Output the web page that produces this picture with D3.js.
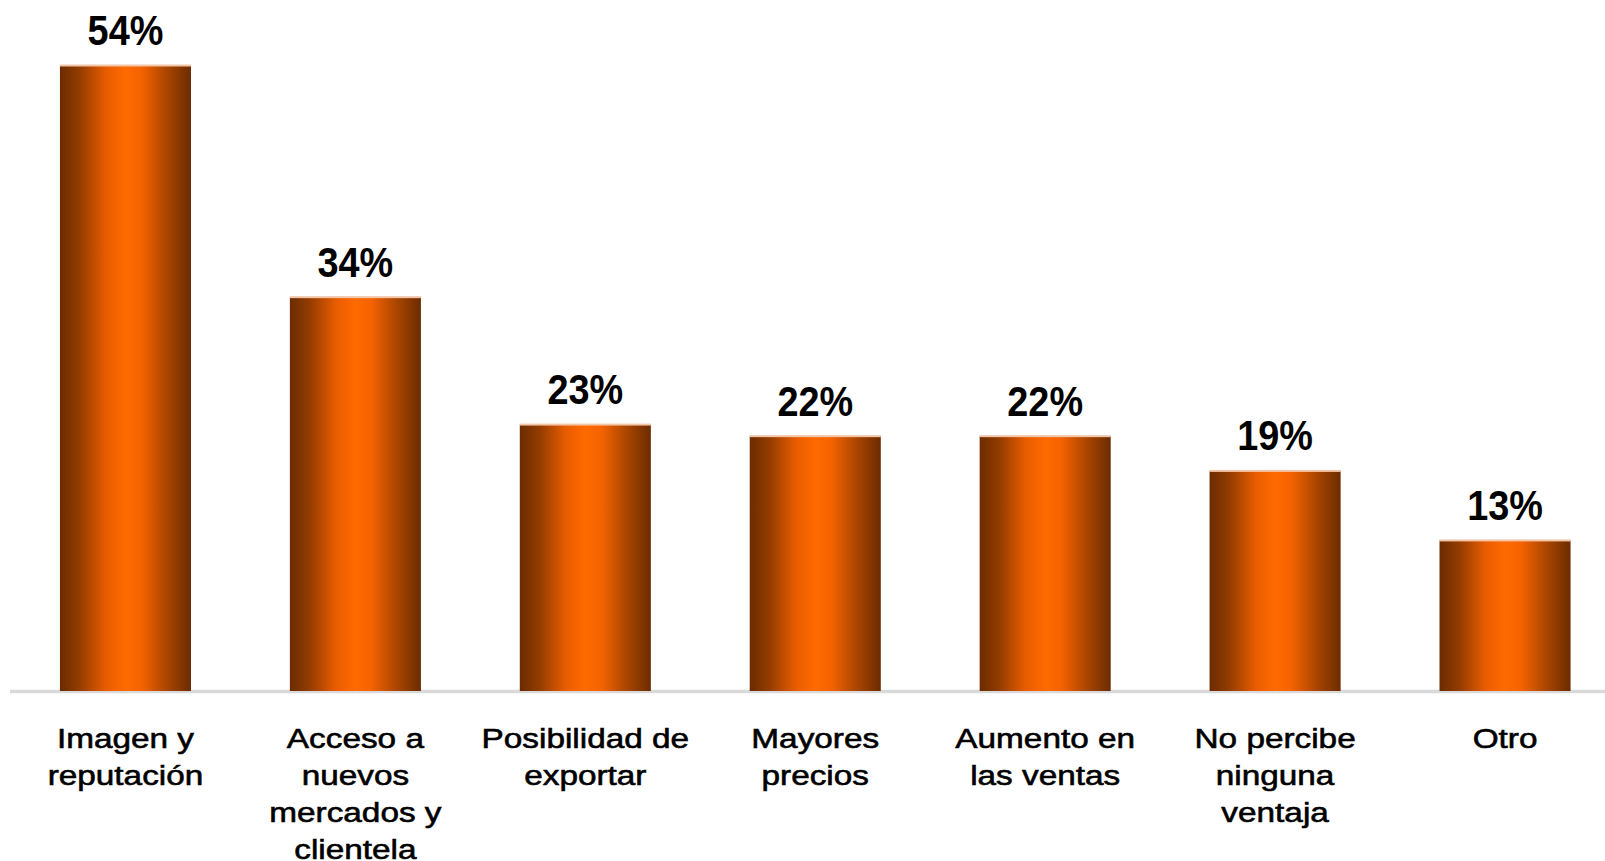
<!DOCTYPE html>
<html>
<head>
<meta charset="utf-8">
<script src="https://cdn.jsdelivr.net/npm/d3@7"></script>
<style>
html,body{margin:0;padding:0;background:#fff;overflow:hidden;}
svg{display:block;}
</style>
</head>
<body>
<svg id="chart" width="1605" height="861"></svg>
<script>
const categories = [
  ["Imagen y", "reputación"],
  ["Acceso a", "nuevos", "mercados y", "clientela"],
  ["Posibilidad de", "exportar"],
  ["Mayores", "precios"],
  ["Aumento en", "las ventas"],
  ["No percibe", "ninguna", "ventaja"],
  ["Otro"]
];
const values = [54, 34, 23, 22, 22, 19, 13];
const valueLabels = ["54%", "34%", "23%", "22%", "22%", "19%", "13%"];

const svg = d3.select("#chart");
const baseY = 691;
const x = d3.scaleBand()
  .domain(d3.range(values.length))
  .range([10.5, 1620])
  .paddingInner(0.43)
  .paddingOuter(0.215);
const y = d3.scaleLinear().domain([0, 54]).range([baseY, 65.5]);

const defs = svg.append("defs");
const grad = defs.append("linearGradient").attr("id", "barGrad")
  .attr("x1", "0").attr("x2", "1").attr("y1", "0").attr("y2", "0");
[[0, "#6b2c00"], [0.15, "#933c00"], [0.35, "#e85c00"], [0.5, "#ff6a00"], [0.62, "#f56300"], [0.82, "#a84500"], [1, "#6b2c00"]]
  .forEach(([o, c]) => grad.append("stop").attr("offset", o).attr("stop-color", c));

// axis line
svg.append("line")
  .attr("x1", 10).attr("x2", 1605)
  .attr("y1", baseY + 0.5).attr("y2", baseY + 0.5)
  .attr("stroke", "#d9d9d9").attr("stroke-width", 3.5);

const g = svg.append("g");
g.selectAll("rect.bar").data(values).join("rect")
  .attr("class", "bar")
  .attr("x", (d, i) => x(i))
  .attr("width", x.bandwidth())
  .attr("y", d => y(d))
  .attr("height", d => baseY - y(d))
  .attr("fill", "url(#barGrad)");

// top highlight
g.selectAll("rect.hl").data(values).join("rect")
  .attr("class", "hl")
  .attr("x", (d, i) => x(i))
  .attr("width", x.bandwidth())
  .attr("y", d => y(d) - 1)
  .attr("height", 2)
  .attr("fill", "#f2c4a8");

// value labels
g.selectAll("text.val").data(values).join("text")
  .attr("class", "val")
  .attr("transform", (d, i) => `translate(${x(i) + x.bandwidth() / 2},${y(d) - 20.5}) scale(0.89,1)`)
  .attr("text-anchor", "middle")
  .attr("font-family", "Liberation Sans, Arial, sans-serif")
  .attr("font-weight", "bold")
  .attr("font-size", 42.5)
  .attr("fill", "#000")
  .text((d, i) => valueLabels[i]);

// category labels
categories.forEach((lines, i) => {
  lines.forEach((line, j) => {
    g.append("text")
      .attr("transform", `translate(${x(i) + x.bandwidth() / 2},${747.5 + j * 37.2}) scale(1.17,1)`)
      .attr("text-anchor", "middle")
      .attr("font-family", "Liberation Sans, Arial, sans-serif")
      .attr("font-size", 28.5)
      .attr("fill", "#000")
      .attr("stroke", "#000")
      .attr("stroke-width", 0.6)
      .text(line);
  });
});
</script>
</body>
</html>
